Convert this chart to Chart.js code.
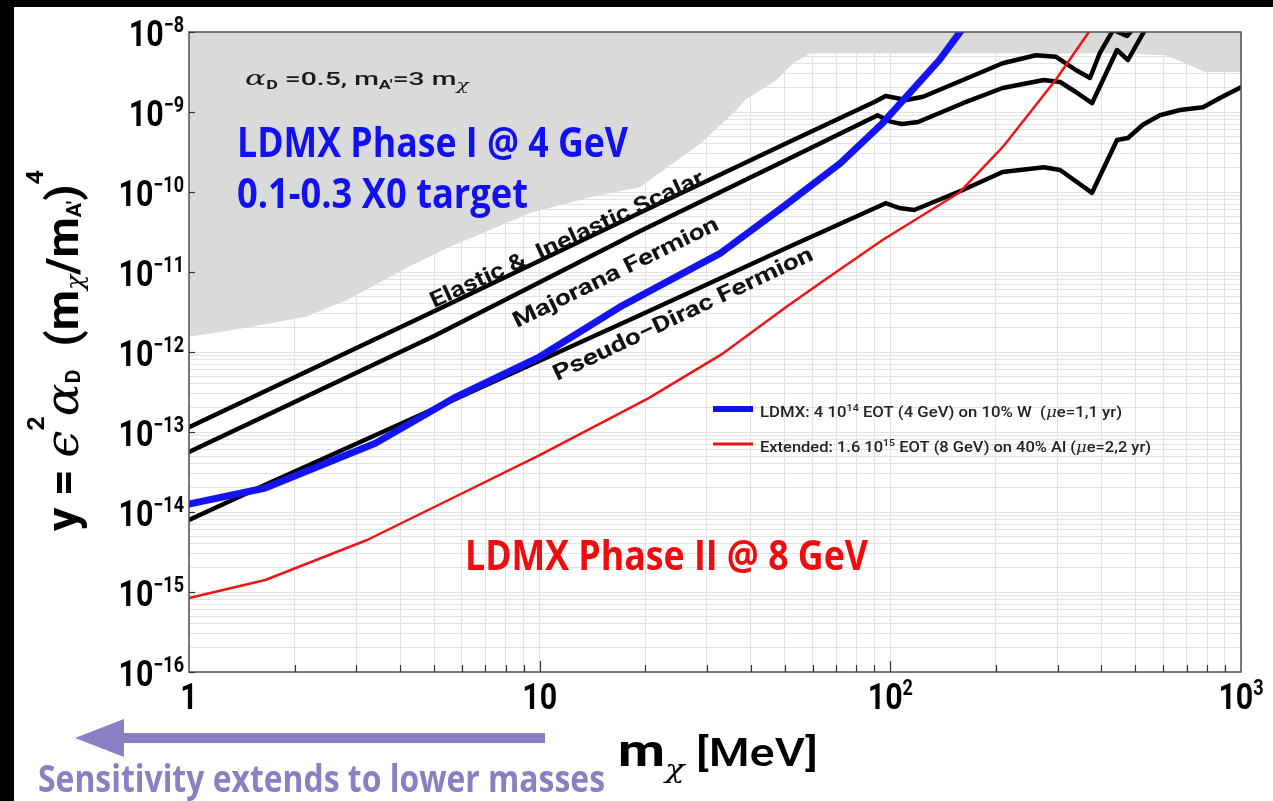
<!DOCTYPE html>
<html>
<head>
<meta charset="utf-8">
<script src="https://cdn.jsdelivr.net/npm/chart.js@4.4.1/dist/chart.umd.min.js"></script>
<style>
  html, body { margin: 0; padding: 0; background: #fff; }
  #wrap { width: 1273px; height: 801px; position: relative; }
</style>
</head>
<body>
<div id="wrap"><canvas id="chart" width="1273" height="801"></canvas></div>
<script>
// masses in MeV, sensitivities given as log10(y)

// LDMX Phase I (blue, thick)
const blueMass = [1, 1.65, 3.4, 5.7, 10, 16.9, 32.9, 50, 72, 95, 138, 160];
const blueExp  = [-13.9, -13.7, -13.14, -12.575, -12.06, -11.44, -10.76, -10.17, -9.64, -9.14, -8.35, -7.97];

// Extended / Phase II (red, thin)
const redMass = [1, 1.65, 3.22, 5.5, 10, 20.4, 33, 50, 63, 95, 157, 209, 296, 371];
const redExp  = [-15.075, -14.85, -14.35, -13.85, -13.29, -12.58, -12.03, -11.45, -11.14, -10.6, -10.01, -9.44, -8.6, -7.98];

// Elastic & Inelastic Scalar
const scalarMass = [1, 5, 19.3, 50, 90, 97, 111, 124, 161, 209, 260, 297, 338, 371, 396, 432, 473, 495];
const scalarExp  = [-12.94, -11.49, -10.26, -9.4, -8.875, -8.8, -8.85, -8.81, -8.6, -8.39, -8.29, -8.31, -8.475, -8.575, -8.26, -7.975, -8.05, -7.95];

// Majorana Fermion
const majMass = [1, 5, 19.3, 50, 92, 100, 108, 120, 161, 209, 274, 305, 338, 376, 443, 476, 532];
const majExp  = [-13.25, -11.8, -10.49, -9.61, -9.04, -9.12, -9.15, -9.125, -8.89, -8.7, -8.6, -8.625, -8.75, -8.89, -8.225, -8.35, -7.975];

// Pseudo-Dirac Fermion
const pdMass = [1, 1.65, 5, 19.3, 50, 97, 106, 117, 161, 209, 274, 305, 376, 443, 476, 525, 587, 670, 779, 871, 1000];
const pdExp  = [-14.1, -13.66, -12.71, -11.54, -10.71, -10.14, -10.2, -10.225, -9.975, -9.75, -9.69, -9.725, -10.01, -9.35, -9.325, -9.16, -9.04, -8.975, -8.94, -8.825, -8.69];

// excluded region (grey), lower boundary
const exclMass = [1, 1.44, 2.15, 2.82, 4.21, 5.5, 9.43, 14.1, 19.3, 28.8, 36.4, 38.5, 47.3, 52.8, 59, 464, 610, 710, 790, 1000];
const exclExp  = [-11.81, -11.7, -11.56, -11.35, -10.94, -10.69, -10.26, -10.06, -9.94, -9.39, -8.975, -8.85, -8.6, -8.39, -8.27, -8.27, -8.29, -8.41, -8.5, -8.5];

// axis labels
const xMajor = [1, 10, 100, 1000];
const xMajorLabels = [['1'], ['10'], ['10', '2'], ['10', '3']];
const yMajorExp = [-8, -9, -10, -11, -12, -13, -14, -15, -16];

const toPoints = (ms, es) => ms.map((m, i) => ({ x: m, y: Math.pow(10, es[i]) }));

// draw a run of text pieces [text, font, dy], optionally squeezed to a width
function drawParts(ctx, parts, x, y, opts) {
  opts = opts || {};
  ctx.save();
  ctx.translate(x, y);
  if (opts.angle) ctx.rotate(opts.angle);
  let total = 0;
  parts.forEach(p => { ctx.font = p[1]; total += ctx.measureText(p[0]).width; });
  const sx = opts.width ? opts.width / total : (opts.sx || 1);
  let ox = 0;
  if (opts.align === 'center') ox = -total * sx / 2;
  if (opts.align === 'right') ox = -total * sx;
  ctx.translate(ox, 0);
  ctx.scale(sx, 1);
  ctx.fillStyle = opts.color || '#000';
  ctx.textAlign = 'left';
  ctx.textBaseline = 'alphabetic';
  let cx = 0;
  parts.forEach(p => {
    ctx.font = p[1];
    ctx.fillText(p[0], cx, p[2] || 0);
    cx += ctx.measureText(p[0]).width;
  });
  ctx.restore();
}

const overlay = {
  id: 'overlay',
  beforeDraw(chart) {
    const ctx = chart.ctx;
    ctx.save();
    ctx.fillStyle = '#fff';
    ctx.fillRect(0, 0, chart.width, chart.height);
    ctx.fillStyle = '#000';
    ctx.fillRect(0, 0, chart.width, 7);
    ctx.fillRect(0, 0, 14, chart.height);
    ctx.restore();
  },
  afterDraw(chart) {
    const ctx = chart.ctx;
    const a = chart.chartArea;
    const xs = chart.scales.x, ys = chart.scales.y;

    // frame
    ctx.save();
    ctx.strokeStyle = '#505050';
    ctx.lineWidth = 1.5;
    ctx.strokeRect(a.left, a.top, a.right - a.left, a.bottom - a.top);

    // inner tick marks
    ctx.strokeStyle = '#333';
    ctx.lineWidth = 1.2;
    xs.ticks.forEach(t => {
      if (t.value <= 1 || t.value >= 1000) return;
      const px = Math.round(xs.getPixelForValue(t.value)) + 0.5;
      const len = xMajor.includes(t.value) ? 11 : 7;
      ctx.beginPath();
      ctx.moveTo(px, a.bottom);
      ctx.lineTo(px, a.bottom - len);
      ctx.stroke();
    });
    yMajorExp.forEach(e => {
      const py = Math.round(ys.getPixelForValue(Math.pow(10, e))) + 0.5;
      ctx.beginPath();
      ctx.moveTo(a.left, py);
      ctx.lineTo(a.left + 6, py);
      ctx.stroke();
    });
    ctx.restore();

    // tick labels
    const big = 'bold 37px Roboto', sup = 'bold 22px Roboto';
    yMajorExp.forEach(e => {
      const py = ys.getPixelForValue(Math.pow(10, e));
      drawParts(ctx, [['10', big, 0], ['\u2212' + Math.abs(e), sup, -14]], 184, py + 13.5, { align: 'right', sx: 0.82 });
    });
    xMajor.forEach((v, i) => {
      const px = xs.getPixelForValue(v);
      const lab = xMajorLabels[i];
      const parts = [[lab[0], big, 0]];
      if (lab[1]) parts.push([lab[1], sup, -14]);
      drawParts(ctx, parts, px, 709, { align: 'center', sx: 0.82 });
    });

    // axis titles
    const tb = 'bold 44px Roboto';
    drawParts(ctx, [
      ['y = ', tb, 0],
      ['\u03f5', 'italic 46px DejaVu Serif', 0],
      ['2', 'bold 24px Roboto', -34],
      ['\u03b1', 'italic 46px DejaVu Serif', 0],
      ['D', 'bold 20px Roboto', 2],
      ['  (m', tb, 0],
      ['\u03c7', 'italic 24px DejaVu Serif', 5],
      ['/m', tb, 0],
      ['A\u2032', 'bold 20px Roboto', 3],
      [')', tb, 0],
      ['4', 'bold 24px Roboto', -35]
    ], 78, 531, { angle: -Math.PI / 2, width: 361 });

    drawParts(ctx, [
      ['m', 'bold 44px Roboto', 0],
      ['\u03c7', 'italic 26px DejaVu Serif', 12],
      [' [MeV]', '500 38px Roboto', 0]
    ], 618, 766, { width: 200 });

    // annotations
    drawParts(ctx, [
      ['\u03b1', 'italic 21px DejaVu Serif', 0],
      ['D', 'bold 12px Roboto', 4],
      [' =0.5, m', '500 19px Roboto', 0],
      ['A\u2032', 'bold 12px Roboto', 4],
      ['=3 m', '500 19px Roboto', 0],
      ['\u03c7', 'italic 14px DejaVu Serif', 5]
    ], 245, 85, { width: 224, color: '#1a1a1a' });

    const blueTxt = '#1010f2', redTxt = '#f00c0c', purple = '#8b7fc4';
    const heavy = 'bold 42px "Open Sans", "Noto Sans", sans-serif';
    drawParts(ctx, [['LDMX Phase I @ 4 GeV', heavy, 0]], 237, 157, { width: 391, color: blueTxt });
    drawParts(ctx, [['0.1-0.3 X0 target', heavy, 0]], 237, 208, { width: 291, color: blueTxt });
    drawParts(ctx, [['LDMX Phase II @ 8 GeV', heavy, 0]], 465, 570, { width: 403, color: redTxt });
    drawParts(ctx, [['Sensitivity extends to lower masses', 'bold 38px "Open Sans", "Noto Sans", sans-serif', 0]], 38, 792, { width: 567, color: purple });

    // arrow
    ctx.save();
    ctx.fillStyle = purple;
    ctx.fillRect(122, 733, 423, 10);
    ctx.beginPath();
    ctx.moveTo(75, 738);
    ctx.lineTo(124, 719);
    ctx.lineTo(124, 757);
    ctx.closePath();
    ctx.fill();
    ctx.restore();

    // curve labels
    const cl = 'bold 22px Roboto';
    drawParts(ctx, [['Elastic &  Inelastic Scalar', cl, 0]], 434, 308, { angle: -24.7 * Math.PI / 180, width: 299, color: '#111' });
    drawParts(ctx, [['Majorana Fermion', cl, 0]], 517, 328, { angle: -26 * Math.PI / 180, width: 226, color: '#111' });
    drawParts(ctx, [['Pseudo\u2212Dirac Fermion', cl, 0]], 557, 381, { angle: -25.3 * Math.PI / 180, width: 285, color: '#111' });

    // legend
    ctx.save();
    ctx.lineCap = 'butt';
    ctx.strokeStyle = '#1010f0';
    ctx.lineWidth = 6;
    ctx.beginPath(); ctx.moveTo(713, 409); ctx.lineTo(753, 409); ctx.stroke();
    ctx.strokeStyle = '#f01010';
    ctx.lineWidth = 3;
    ctx.beginPath(); ctx.moveTo(713, 444); ctx.lineTo(753, 444); ctx.stroke();
    ctx.restore();
    const lf = '500 14px Roboto', ls = '500 9px Roboto', lg = 'italic 14px DejaVu Serif';
    drawParts(ctx, [['LDMX: 4 10', lf, 0], ['14', ls, -6], [' EOT (4 GeV) on 10% W  (', lf, 0], ['\u03bc', lg, 0], ['e=1,1 yr)', lf, 0]],
      760, 417, { width: 362, color: '#222' });
    drawParts(ctx, [['Extended: 1.6 10', lf, 0], ['15', ls, -6], [' EOT (8 GeV) on 40% Al (', lf, 0], ['\u03bc', lg, 0], ['e=2,2 yr)', lf, 0]],
      760, 452, { width: 391, color: '#222' });
  }
};

const gridColor = '#e2e2e2';

new Chart(document.getElementById('chart'), {
  type: 'line',
  data: {
    datasets: [
      {
        label: 'LDMX: 4 10^14 EOT (4 GeV) on 10% W',
        data: toPoints(blueMass, blueExp),
        borderColor: '#1414f0',
        borderWidth: 7,
        order: 0
      },
      {
        label: 'Extended: 1.6 10^15 EOT (8 GeV) on 40% Al',
        data: toPoints(redMass, redExp),
        borderColor: '#f01414',
        borderWidth: 2.5,
        order: 1
      },
      {
        label: 'Elastic & Inelastic Scalar',
        data: toPoints(scalarMass, scalarExp),
        borderColor: '#000',
        borderWidth: 4.5,
        order: 2
      },
      {
        label: 'Majorana Fermion',
        data: toPoints(majMass, majExp),
        borderColor: '#000',
        borderWidth: 4.5,
        order: 2
      },
      {
        label: 'Pseudo-Dirac Fermion',
        data: toPoints(pdMass, pdExp),
        borderColor: '#000',
        borderWidth: 4.5,
        order: 2
      },
      {
        label: 'Excluded',
        data: toPoints(exclMass, exclExp),
        borderColor: 'rgba(0,0,0,0)',
        borderWidth: 0,
        backgroundColor: '#dadada',
        fill: 'end',
        order: 5
      }
    ]
  },
  options: {
    responsive: false,
    animation: false,
    clip: 0,
    layout: { padding: { left: 189, right: 32, top: 32, bottom: 129 } },
    elements: {
      point: { radius: 0 },
      line: { tension: 0, borderJoinStyle: 'round', borderCapStyle: 'round' }
    },
    plugins: {
      legend: { display: false },
      tooltip: { enabled: false }
    },
    scales: {
      x: {
        type: 'logarithmic',
        min: 1,
        max: 1000,
        ticks: { display: false },
        grid: { color: gridColor, lineWidth: 1, drawTicks: false },
        border: { display: false },
        afterBuildTicks(scale) {
          const t = [];
          for (let e = 0; e < 3; e++) {
            for (let k = 1; k < 10; k++) t.push({ value: Number(k + 'e' + e) });
          }
          t.push({ value: 1000 });
          scale.ticks = t;
        },
        afterFit(scale) { scale.height = 0; }
      },
      y: {
        type: 'logarithmic',
        min: 1e-16,
        max: 1e-8,
        ticks: { display: false },
        grid: { color: gridColor, lineWidth: 1, drawTicks: false },
        border: { display: false },
        afterBuildTicks(scale) {
          const t = [];
          for (let e = -16; e < -8; e++) {
            for (let k = 1; k < 10; k++) t.push({ value: Number(k + 'e' + e) });
          }
          t.push({ value: 1e-8 });
          scale.ticks = t;
        },
        afterFit(scale) { scale.width = 0; }
      }
    }
  },
  plugins: [overlay]
});
</script>
</body>
</html>
